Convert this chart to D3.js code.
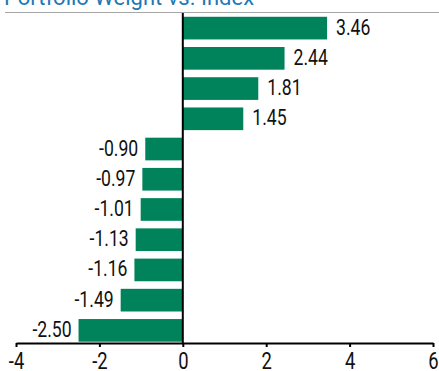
<!DOCTYPE html>
<html>
<head>
<meta charset="utf-8">
<script src="https://cdn.jsdelivr.net/npm/d3@7"></script>
<style>
  html, body { margin: 0; padding: 0; background: #fff; }
  svg { display: block; font-family: Roboto, "Noto Sans", sans-serif; }
</style>
</head>
<body>
<svg id="chart" width="439" height="371"></svg>
<script>
// Active weights relative to the index, largest overweight first
const categories = ["a1", "a2", "a3", "a4", "a5", "a6", "a7", "a8", "a9", "a10", "a11"];
const weights = [3.46, 2.44, 1.81, 1.45, -0.90, -0.97, -1.01, -1.13, -1.16, -1.49, -2.50];
const xTicks = [-4, -2, 0, 2, 4, 6];
const title = "Portfolio Weight vs. Index";

const data = categories.map((c, i) => ({ cat: c, value: weights[i] }));

const svg = d3.select("#chart");
const W = 439, H = 371;
const NARROW = 0.8; // horizontal squeeze to get a condensed face from Roboto

const x = d3.scaleLinear().domain([-4, 6]).range([16, 433]);
const y = d3.scaleBand()
  .domain(categories)
  .range([13, 345.5])
  .paddingInner(0.25)
  .paddingOuter(0.125);

// Title (runs off the top edge) and rule beneath it
svg.append("text")
  .attr("x", 4)
  .attr("y", 5)
  .attr("fill", "#1f78b4")
  .attr("font-size", 22)
  .text(title);

svg.append("line")
  .attr("x1", 5).attr("x2", W)
  .attr("y1", 12.5).attr("y2", 12.5)
  .attr("stroke", "#a6a6a6")
  .attr("stroke-width", 1);

// Bars
svg.append("g")
  .selectAll("rect")
  .data(data)
  .join("rect")
  .attr("x", d => x(Math.min(0, d.value)))
  .attr("width", d => Math.abs(x(d.value) - x(0)))
  .attr("y", d => y(d.cat))
  .attr("height", y.bandwidth())
  .attr("fill", "#00825a");

// Value labels
svg.append("g")
  .selectAll("text")
  .data(data)
  .join("text")
  .attr("transform", d => {
    const px = d.value >= 0 ? x(d.value) + 9 : x(d.value) - 7;
    const py = y(d.cat) + y.bandwidth() / 2 + 6.5;
    return `translate(${px},${py}) scale(${NARROW},1)`;
  })
  .attr("text-anchor", d => d.value >= 0 ? "start" : "end")
  .attr("font-size", 22)
  .attr("fill", "#111")
  .text(d => d.value.toFixed(2));

// Zero line
svg.append("line")
  .attr("x1", x(0)).attr("x2", x(0))
  .attr("y1", 13).attr("y2", 343)
  .attr("stroke", "#000")
  .attr("stroke-width", 2);

// X axis
const axis = svg.append("g")
  .attr("transform", "translate(0,343)")
  .call(d3.axisBottom(x).tickValues(xTicks).tickSize(4).tickSizeOuter(0).tickFormat(d => String(d)));
axis.select(".domain").attr("stroke", "#000").attr("stroke-width", 2);
axis.selectAll(".tick line").attr("stroke", "#000").attr("stroke-width", 2);
axis.selectAll(".tick text")
  .attr("font-family", "Roboto, sans-serif")
  .attr("font-size", 23)
  .attr("fill", "#111")
  .attr("y", 26)
  .attr("dy", 0)
  .attr("transform", `scale(${NARROW},1)`);
</script>
</body>
</html>
